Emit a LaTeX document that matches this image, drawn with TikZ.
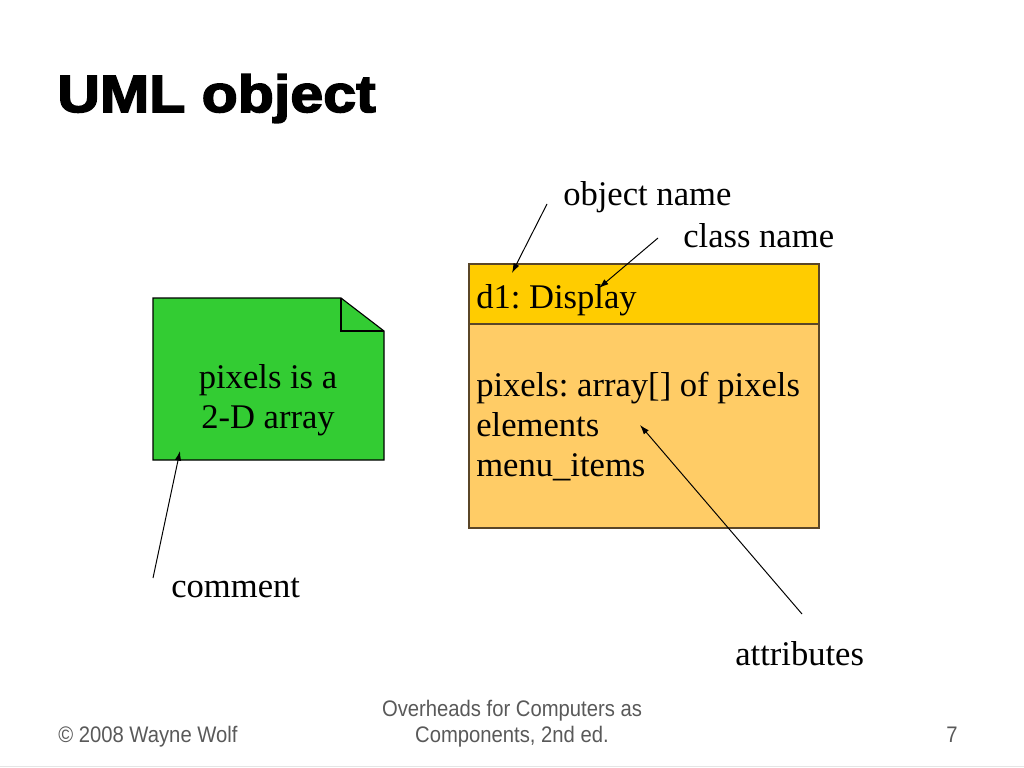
\documentclass[tikz,border=0pt]{standalone}
\usepackage{fontspec}
\setmainfont{Liberation Serif}
\newfontfamily\titlefont[FakeStretch=1.13,FakeBold=3]{Liberation Sans}
\newfontfamily\footfont[FakeStretch=0.9]{Liberation Sans}
\usetikzlibrary{arrows.meta}
\definecolor{notegreen}{RGB}{51,204,51}
\definecolor{headyellow}{RGB}{255,204,0}
\definecolor{bodyorange}{RGB}{255,204,102}
\definecolor{boxline}{RGB}{90,70,40}
\definecolor{footgray}{RGB}{89,89,89}
\frenchspacing
\tikzset{
  lbl/.style={anchor=base west,inner sep=0pt,font=\fontsize{24.6}{28.5}\selectfont},
  foot/.style={inner sep=0pt,text=footgray,font=\footfont\fontsize{16}{18}\selectfont},
  pointer/.style={->,line width=0.7pt}
}

\begin{document}
\begin{tikzpicture}[x=0.025cm,y=-0.025cm,>={Latex[length=2.4mm,width=1.6mm]}]
  \useasboundingbox (0,0) rectangle (1024,768);
  \node[anchor=base west,inner sep=0pt,font=\titlefont\bfseries\fontsize{37.2}{40}\selectfont] (title) at (57,112) {UML object};
  % nota
  \draw[fill=notegreen,line width=0.8pt] (153,298) -- (341,298) -- (384,331) -- (384,460) -- (153,460) -- cycle;
  \draw[line width=0.8pt] (341,298) -- (341,331) -- (384,331);
  \node[lbl,anchor=center,align=center] (note) at (268,400) {pixels is a\\2-D array};
  % objeto
  \draw[fill=headyellow,draw=boxline,line width=0.8pt] (469,264) rectangle (819,324);
  \draw[fill=bodyorange,draw=boxline,line width=0.8pt] (469,324) rectangle (819,528);
  \node[lbl] (objname) at (476,308) {d1: Display};
  \node[lbl,align=left,anchor=north west] (attrs) at (476,372) {pixels: array[] of pixels\\elements\\menu\_items};
  % etiquetas
  \node[lbl] (lobj) at (563,205) {object name};
  \node[lbl] (lclass) at (683,247) {class name};
  \node[lbl] (lcomment) at (171,597) {comment};
  \node[lbl] (lattr) at (735,665) {attributes};
  \coordinate (tobj) at (547,204);   \coordinate (hobj) at (512,273);
  \coordinate (tclass) at (658,238); \coordinate (hclass) at (599,288);
  \coordinate (tcom) at (153,578);   \coordinate (hcom) at (180,451);
  \coordinate (tattr) at (802,614);  \coordinate (hattr) at (640,425);
  \draw[pointer] (tobj) -- (hobj);
  \draw[pointer] (tclass) -- (hclass);
  \draw[pointer] (tcom) -- (hcom);
  \draw[pointer] (tattr) -- (hattr);
  % pie
  \node[foot,anchor=base west] (copy) at (58,742) {\textcopyright{} 2008 Wayne Wolf};
  \node[foot,anchor=base,align=center] (book) at (512,742) {Overheads for Computers as\\Components, 2nd ed.};
  \node[foot,anchor=base east] (page) at (958,742) {7};
  \draw[line width=0.5pt,gray!20] (0,766) -- (1024,766);
\end{tikzpicture}
\end{document}
